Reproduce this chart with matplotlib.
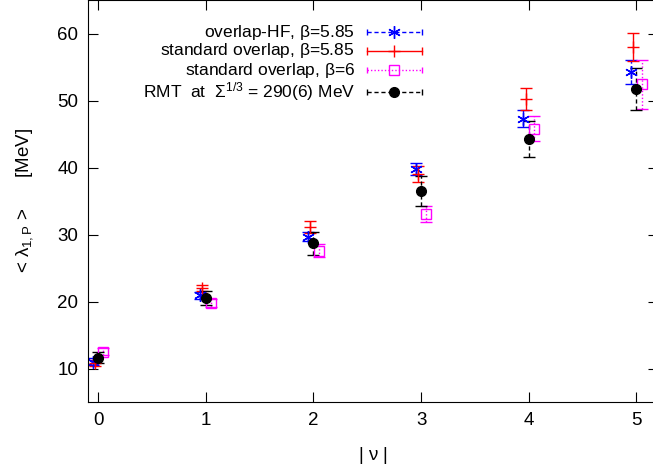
import matplotlib
matplotlib.use("Agg")
import matplotlib.pyplot as plt
import numpy as np

plt.rcParams['font.family'] = ['Liberation Sans', 'DejaVu Sans']
plt.rcParams['mathtext.fontset'] = 'custom'
plt.rcParams['mathtext.rm'] = 'Liberation Sans'
plt.rcParams['mathtext.it'] = 'Liberation Sans'

# |nu| values
nu = np.array([0, 1, 2, 3, 4, 5])

# overlap-HF, beta=5.85
hf_val = [11.0, 20.9, 29.7, 39.8, 47.3, 54.3]
hf_err = [0.5, 0.5, 0.6, 0.9, 1.3, 1.8]

# standard overlap, beta=5.85
std585_val = [10.8, 22.0, 31.1, 39.0, 50.2, 58.0]
std585_err = [0.5, 0.5, 0.9, 1.2, 1.6, 2.1]

# standard overlap, beta=6
std6_val = [12.5, 19.8, 27.6, 33.0, 45.8, 52.4]
std6_err = [0.5, 0.6, 1.0, 1.2, 1.9, 3.6]

# RMT prediction
rmt_val = [11.6, 20.5, 28.7, 36.5, 44.2, 51.7]
rmt_err = [0.8, 1.0, 1.7, 2.2, 2.7, 3.1]

labels = [r'overlap-HF, $\beta$=5.85',
          r'standard overlap, $\beta$=5.85',
          r'standard overlap, $\beta$=6',
          r'RMT  at  $\Sigma^{1/3}$ = 290(6) MeV']

fig = plt.figure(figsize=(6.53, 4.67), dpi=100)
ax = fig.add_axes([88/653, 65/467, 570/653, 402/467])

styles = []

def draw(x, y, err, color, marker, ls, ms, mfc=None):
    eb = ax.errorbar(x, y, yerr=err, marker=marker, linestyle='none',
                     color=color, ms=ms, mfc=mfc if mfc else color, mew=1.0,
                     elinewidth=1.0, capsize=4, capthick=1.0)
    eb[2][0].set_linestyle(ls)
    styles.append(dict(color=color, marker=marker, ls=ls, ms=ms,
                       mfc=mfc if mfc else color))

draw(nu - 0.05, hf_val, hf_err, 'blue', (6, 2, 0), (0, (3, 2)), 9)
draw(nu - 0.03, std585_val, std585_err, 'red', '+', '-', 9)
draw(nu + 0.05, std6_val, std6_err, 'magenta', 's', (0, (1, 1.5)), 7, mfc='none')
draw(nu, rmt_val, rmt_err, 'black', 'o', (0, (3, 2)), 7)

# gnuplot-style key, top left of the plot area
tx = 0.468
hx0, hx1 = 0.489, 0.586
rows_px = [32, 51, 70, 92]
for lab, s, rp in zip(labels, styles, rows_px):
    ky = 1 - rp / 402
    ax.text(tx, ky, lab, transform=ax.transAxes, ha='right', va='center',
            fontsize=12.5)
    ax.plot([hx0, hx1], [ky, ky], transform=ax.transAxes, color=s['color'],
            ls=s['ls'], lw=1.0, clip_on=False)
    ax.plot([hx0, hx1], [ky, ky], transform=ax.transAxes, color=s['color'],
            ls='none', marker='|', ms=6 if s['color'] == 'red' else 4,
            mew=1.0, clip_on=False)
    ax.plot([(hx0 + hx1) / 2], [ky], transform=ax.transAxes, color=s['color'],
            ls='none', marker=s['marker'], ms=s['ms'], mfc=s['mfc'], mew=1.0,
            clip_on=False)

ax.set_xlim(-0.093, 5.2)
ax.set_ylim(5, 65)
ax.set_xticks(nu)
ax.set_yticks([10, 20, 30, 40, 50, 60])
ax.tick_params(direction='in', length=7, top=True, right=True, labelsize=13.5, pad=7)

ax.set_xlabel(r'| $\nu$ |', fontsize=13.5, labelpad=12)
ax.set_ylabel(r'< $\lambda_{1,\mathrm{P}}$ >      [MeV]', fontsize=13.5, labelpad=16)

fig.savefig('out.png', dpi=100)
